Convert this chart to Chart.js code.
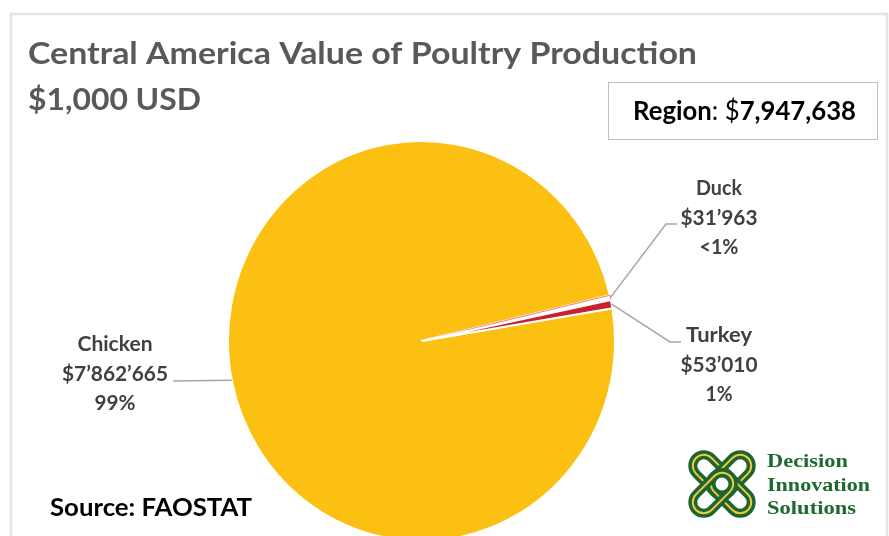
<!DOCTYPE html>
<html>
<head>
<meta charset="utf-8">
<script src="https://cdn.jsdelivr.net/npm/chart.js@4.4.1/dist/chart.umd.min.js"></script>
<style>
  html, body { margin: 0; padding: 0; background: #fff; }
  #wrap { width: 889px; height: 536px; position: relative; }
</style>
</head>
<body>
<div id="wrap"><canvas id="pieChart" width="889" height="536"></canvas></div>
<script>
// data
const categories = ['Chicken', 'Duck', 'Turkey'];
const values = [7862665, 31963, 53010];
const sliceColors = ['#FBC012', '#FFFFFF', '#C8202C'];
const sliceBorders = ['#FFFFFF', '#E9858B', '#FFFFFF'];

const titleLines = ['Central America Value of Poultry Production', '$1,000 USD'];
const sourceText = 'Source: FAOSTAT';
const logoLines = ['Decision', 'Innovation', 'Solutions'];

const total = values.reduce((a, b) => a + b, 0);

// label layout: elbow point, end of line, text centre, first baseline
const labelLayout = {
    Chicken: { elbow: [173, 381], end: [173, 381], tx: 115, ty: 351, w: [75, 106, 41] },
    Duck:    { elbow: [666, 224], end: [677, 224], tx: 719, ty: 195, w: [46, 77, 39] },
    Turkey:  { elbow: [670, 342], end: [681, 342], tx: 719, ty: 342, w: [66, 77, 27] }
};

const stretchY = 1.034;
const LABEL_FONT = 'Lato, "Open Sans", sans-serif';

function fmtMoney(v) {
    return '$' + String(v).replace(/\B(?=(\d{3})+(?!\d))/g, '\u2019');
}
function fmtPct(v) {
    const p = Math.round(v / total * 100);
    return p < 1 ? '<1%' : p + '%';
}
function fmtComma(v) {
    return String(v).replace(/\B(?=(\d{3})+(?!\d))/g, ',');
}

// draw text squeezed to a target width (Calibri is narrow)
function fitText(ctx, text, x, y, width, align) {
    const w = ctx.measureText(text).width;
    const s = width / w;
    ctx.save();
    let left = x;
    if (align === 'center') left = x - width / 2;
    ctx.translate(left, y);
    ctx.scale(s, 1);
    ctx.textAlign = 'left';
    ctx.fillText(text, 0, 0);
    ctx.restore();
}

const stretchPlugin = {
    id: 'stretch',
    beforeDatasetsDraw(chart) {
        const arc = chart.getDatasetMeta(0).data[0];
        const ctx = chart.ctx;
        ctx.save();
        ctx.translate(arc.x, arc.y);
        ctx.scale(1, stretchY);
        ctx.translate(-arc.x, -arc.y);
    },
    afterDatasetsDraw(chart) {
        chart.ctx.restore();
    }
};

const decorPlugin = {
    id: 'decor',
    beforeDraw(chart) {
        const ctx = chart.ctx;
        ctx.save();
        ctx.fillStyle = '#fff';
        ctx.fillRect(0, 0, chart.width, chart.height);
        ctx.strokeStyle = '#E4E4E4';
        ctx.lineWidth = 2.5;
        ctx.strokeRect(11, 14, 876, 540);
        ctx.restore();
    },
    afterDraw(chart) {
        const ctx = chart.ctx;
        ctx.save();
        ctx.textBaseline = 'alphabetic';

        // title
        ctx.fillStyle = '#595959';
        ctx.font = 'bold 31px ' + LABEL_FONT;
        fitText(ctx, titleLines[0], 28, 64, 669, 'left');
        fitText(ctx, titleLines[1], 28, 110, 173, 'left');

        // region box
        ctx.strokeStyle = '#BFBFBF';
        ctx.lineWidth = 1;
        ctx.strokeRect(608.5, 82.5, 269, 57);
        ctx.fillStyle = '#000';
        const parts = [
            ['bold', 'Region'], ['normal', ': $'], ['bold', fmtComma(total)]
        ];
        let tw = 0;
        parts.forEach(p => { ctx.font = p[0] + ' 26px ' + LABEL_FONT; tw += ctx.measureText(p[1]).width; });
        const s = 223 / tw;
        let px = 633;
        parts.forEach(p => {
            ctx.font = p[0] + ' 26px ' + LABEL_FONT;
            const w = ctx.measureText(p[1]).width * s;
            fitText(ctx, p[1], px, 120, w, 'left');
            px += w;
        });

        // source
        ctx.font = 'bold 25px ' + LABEL_FONT;
        fitText(ctx, sourceText, 50, 516, 202, 'left');

        // slice labels
        const meta = chart.getDatasetMeta(0);
        meta.data.forEach((arc, i) => {
            const name = categories[i];
            const lay = labelLayout[name];
            const mid = (arc.startAngle + arc.endAngle) / 2;
            const ex = arc.x + Math.cos(mid) * arc.outerRadius;
            const ey = arc.y + Math.sin(mid) * arc.outerRadius * stretchY;
            ctx.strokeStyle = '#A6A6A6';
            ctx.lineWidth = 1.5;
            ctx.beginPath();
            ctx.moveTo(ex, ey);
            ctx.lineTo(lay.elbow[0], lay.elbow[1]);
            ctx.lineTo(lay.end[0], lay.end[1]);
            ctx.stroke();

            ctx.fillStyle = '#404040';
            ctx.font = 'bold 21px ' + LABEL_FONT;
            const lines = [name, fmtMoney(values[i]), fmtPct(values[i])];
            lines.forEach((t, k) => {
                fitText(ctx, t, lay.tx, lay.ty + k * 29.5, lay.w[k], 'center');
            });
        });

        // logo
        drawKnot(ctx, 722, 484);
        ctx.fillStyle = '#1D6A31';
        ctx.font = 'bold 19px "Liberation Serif", "DejaVu Serif", serif';
        fitText(ctx, logoLines[0], 767, 467, 81, 'left');
        fitText(ctx, logoLines[1], 767, 491, 103, 'left');
        fitText(ctx, logoLines[2], 767, 514, 89, 'left');
        ctx.restore();
    }
};

function drawKnot(ctx, cx, cy) {
    const green = '#1B6530', yellow = '#F3C63A';
    const shapes = [
        { a: Math.PI / 4, dx: -9, dy: -9 },
        { a: -Math.PI / 4, dx: 9, dy: -9 },
        { a: Math.PI / 4, dx: 9, dy: 9 },
        { a: -Math.PI / 4, dx: -9, dy: 9 }
    ];
    shapes.forEach(sh => {
        ctx.save();
        ctx.translate(cx + sh.dx, cy + sh.dy);
        ctx.rotate(sh.a);
        ctx.beginPath();
        ctx.roundRect(-24, -11, 48, 22, 11);
        ctx.strokeStyle = green;
        ctx.lineWidth = 9;
        ctx.stroke();
        ctx.strokeStyle = yellow;
        ctx.lineWidth = 2;
        ctx.stroke();
        ctx.restore();
    });
}

const ctx = document.getElementById('pieChart');
new Chart(ctx, {
    type: 'pie',
    data: {
        labels: categories,
        datasets: [{
            data: values,
            backgroundColor: sliceColors,
            borderColor: sliceBorders,
            borderWidth: [2, 1, 2],
            clip: false
        }]
    },
    options: {
        responsive: false,
        animation: false,
        events: [],
        rotation: 80.6,
        layout: { padding: { left: 227, right: 273, top: 146, bottom: 0 } },
        plugins: {
            legend: { display: false },
            title: { display: false },
            tooltip: { enabled: false }
        }
    },
    plugins: [stretchPlugin, decorPlugin]
});
</script>
</body>
</html>
